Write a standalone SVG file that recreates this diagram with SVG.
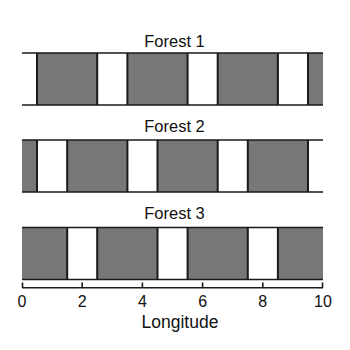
<svg xmlns="http://www.w3.org/2000/svg" width="350" height="350" viewBox="0 0 350 350">
<style>
.g{fill:#777777;stroke:none}
.v{stroke:#1a1a1a;stroke-width:2;fill:none}
.h{stroke:#1a1a1a;stroke-width:1.6;fill:none}
.t{font-family:"Liberation Sans",Arial,sans-serif;fill:#111;text-anchor:middle}
</style>
<rect width="350" height="350" fill="#fff"/>
<g id="forest1">
<text class="t" x="174.5" y="46.5" font-size="16.5">Forest 1</text>
<rect class="g" x="37" y="53" width="60.2" height="52"/>
<rect class="g" x="127.4" y="53" width="60.2" height="52"/>
<rect class="g" x="217.7" y="53" width="60.2" height="52"/>
<rect class="g" x="308" y="53" width="15" height="52"/>
<path class="v" d="M37,53V105M97.2,53V105M127.4,53V105M187.6,53V105M217.7,53V105M277.9,53V105M308,53V105"/>
<path class="h" d="M22,53H323M22,105H323"/>
</g>
<g id="forest2">
<text class="t" x="174.5" y="131.5" font-size="16.5">Forest 2</text>
<rect class="g" x="22" y="140" width="15" height="52"/>
<rect class="g" x="67.2" y="140" width="60.2" height="52"/>
<rect class="g" x="157.5" y="140" width="60.2" height="52"/>
<rect class="g" x="247.8" y="140" width="60.2" height="52"/>
<path class="v" d="M37,140V192M67.2,140V192M127.4,140V192M157.5,140V192M217.7,140V192M247.8,140V192M308,140V192"/>
<path class="h" d="M22,140H323M22,192H323"/>
</g>
<g id="forest3">
<text class="t" x="174.5" y="219" font-size="16.5">Forest 3</text>
<rect class="g" x="22" y="227.5" width="45.2" height="52"/>
<rect class="g" x="97.2" y="227.5" width="60.2" height="52"/>
<rect class="g" x="187.6" y="227.5" width="60.2" height="52"/>
<rect class="g" x="277.9" y="227.5" width="45.1" height="52"/>
<path class="v" d="M67.2,227.5V279.5M97.2,227.5V279.5M157.5,227.5V279.5M187.6,227.5V279.5M247.8,227.5V279.5M277.9,227.5V279.5"/>
<path class="h" d="M22,227.5H323M22,279.5H323"/>
</g>
<g id="axis">
<path class="h" d="M22,287.7H323M22.5,282.5V287.7M82.2,282.5V287.7M142.4,282.5V287.7M202.6,282.5V287.7M262.8,282.5V287.7M322.5,282.5V287.7"/>
<g class="t" font-size="16">
<text x="22" y="306.5">0</text>
<text x="82.2" y="306.5">2</text>
<text x="142.4" y="306.5">4</text>
<text x="202.6" y="306.5">6</text>
<text x="262.8" y="306.5">8</text>
<text x="323" y="306.5">10</text>
</g>
<text class="t" x="180" y="327.5" font-size="17.5">Longitude</text>
</g>
</svg>
